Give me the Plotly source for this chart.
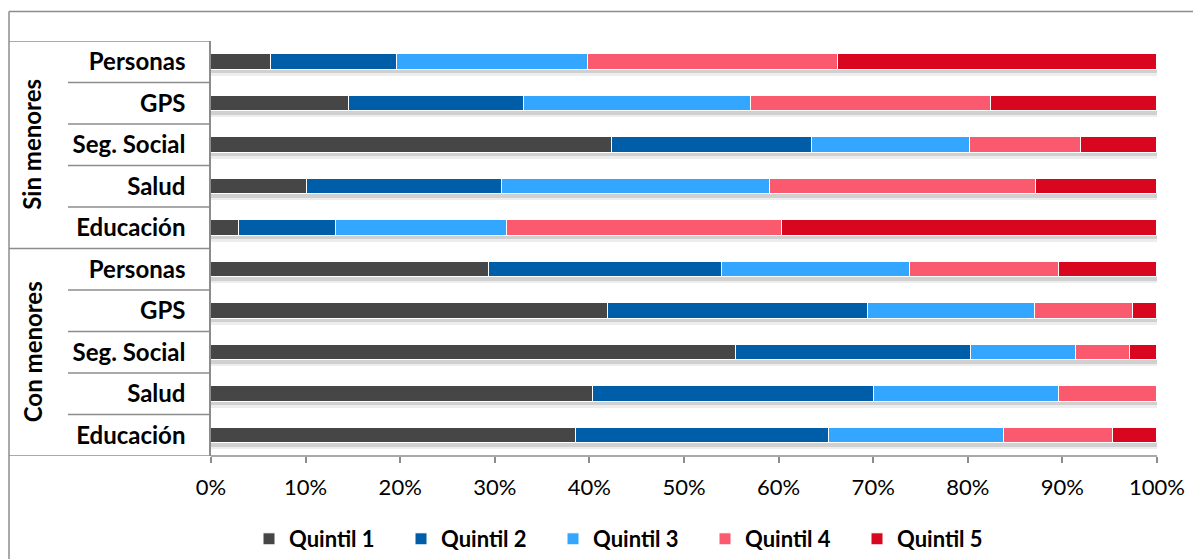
import numpy as np
import plotly.graph_objects as go

# Rows, top to bottom
groups = ["Sin menores", "Con menores"]
items = ["Personas", "GPS", "Seg. Social", "Salud", "Educación"]
row_labels = items + items

series = ["Quintil 1", "Quintil 2", "Quintil 3", "Quintil 4", "Quintil 5"]
colors = ["#464646", "#005EA8", "#33A6FF", "#FA596E", "#D90620"]

# Share (%) of each quintil per row, in row order
q1 = [6.3, 14.6, 42.4, 10.2, 3.0, 29.4, 42.0, 55.5, 40.4, 38.6]
q2 = [13.4, 18.5, 21.1, 20.6, 10.2, 24.6, 27.4, 24.8, 29.7, 26.7]
q3 = [20.2, 24.0, 16.7, 28.3, 18.1, 19.9, 17.7, 11.1, 19.5, 18.5]
q4 = [26.4, 25.4, 11.8, 28.1, 29.1, 15.7, 10.4, 5.7, 10.4, 11.5]
q5 = [33.7, 17.5, 8.0, 12.8, 39.6, 10.4, 2.5, 2.9, 0.0, 4.7]

x_ticks = list(range(0, 101, 10))

# Pixel layout of the plotting area
W, H = 1193, 559
L, R, T, B = 211, 36, 41, 103
plot_w = W - L - R
plot_h = H - T - B
row_px = plot_h / len(row_labels)

values = np.array([q1, q2, q3, q4, q5])
bases = np.vstack([np.zeros(len(row_labels)), np.cumsum(values, axis=0)[:-1]])
totals = values.sum(axis=0)
ypos = np.arange(len(row_labels))

bar_w = 15.5 / row_px

fig = go.Figure()

# soft drop shadow under each bar
for grow, shift, alpha in [(5, 3.5, 0.07), (2.5, 2.5, 0.12)]:
    w = bar_w + grow / row_px
    fig.add_trace(go.Bar(
        y=ypos, x=totals, base=0, orientation="h",
        width=w, offset=-bar_w / 2 + shift / row_px - (grow / 2) / row_px,
        marker=dict(color=f"rgba(0,0,0,{alpha})", line=dict(width=0)),
        showlegend=False, hoverinfo="skip",
    ))

for name, col, vals, base in zip(series, colors, values, bases):
    fig.add_trace(go.Bar(
        y=ypos, x=vals, base=base, orientation="h", name=name,
        width=bar_w, offset=-bar_w / 2,
        marker=dict(color=col, line=dict(color="white", width=1)),
    ))

line_col = "#8C8C8C"
shapes = []
# outer frame (top and left edges)
fx0 = (9 - L) / plot_w
fy_top = 1 + (T - 11.5) / plot_h
shapes.append(dict(type="line", xref="paper", yref="paper", x0=fx0, x1=1.1,
                   y0=fy_top, y1=fy_top, line=dict(color=line_col, width=1.5)))
shapes.append(dict(type="line", xref="paper", yref="paper", x0=fx0, x1=fx0,
                   y0=fy_top, y1=-0.4, line=dict(color=line_col, width=1.5)))
# category separators
inner_x0 = (68 - L) / plot_w
for k in range(len(row_labels) + 1):
    yb = k - 0.5
    is_group = k % len(items) == 0
    shapes.append(dict(type="line", xref="paper", yref="y",
                       x0=fx0 if is_group else inner_x0, x1=0, y0=yb, y1=yb,
                       line=dict(color=line_col, width=1.5)))
# axis line along the bottom
shapes.append(dict(type="line", xref="paper", yref="paper", x0=0, x1=1, y0=0, y1=0,
                   line=dict(color=line_col, width=1.5)))

annotations = []
for gi, g in enumerate(groups):
    yc = gi * len(items) + (len(items) - 1) / 2
    annotations.append(dict(
        text=g, xref="paper", yref="y", x=(32 - L) / plot_w, y=yc,
        textangle=-90, showarrow=False, xanchor="center", yanchor="middle",
        font=dict(family="Lato", size=24, color="black", weight="bold"),
    ))

fig.update_layout(
    width=W, height=H,
    margin=dict(l=L, r=R, t=T, b=B, pad=0, autoexpand=False),
    paper_bgcolor="white", plot_bgcolor="white",
    barmode="overlay", bargap=0,
    shapes=shapes, annotations=annotations,
    font=dict(family="Lato", color="black"),
    xaxis=dict(
        range=[0, 100], tickvals=x_ticks, ticktext=[f"{v}%" for v in x_ticks],
        showgrid=False, zeroline=False, showline=False,
        ticks="outside", ticklen=6, tickwidth=1.5, tickcolor=line_col,
        tickfont=dict(family="Lato", size=22, color="black"),
        ticklabelstandoff=6, fixedrange=True,
    ),
    yaxis=dict(
        range=[len(row_labels) - 0.5, -0.5],
        tickvals=list(ypos), ticktext=row_labels,
        showgrid=False, zeroline=False,
        showline=True, linecolor=line_col, linewidth=1.5,
        ticks="", ticklabelstandoff=19,
        tickfont=dict(family="Lato", size=24, color="black", weight="bold"),
        fixedrange=True,
    ),
    legend=dict(
        orientation="h", x=(249 - L) / plot_w, xanchor="left",
        y=(456 - 539) / plot_h, yanchor="middle",
        entrywidth=107, entrywidthmode="pixels",
        font=dict(family="Lato", size=22, color="black", weight="bold"),
        bgcolor="rgba(0,0,0,0)", traceorder="normal",
    ),
)

fig.write_html("out.html")
